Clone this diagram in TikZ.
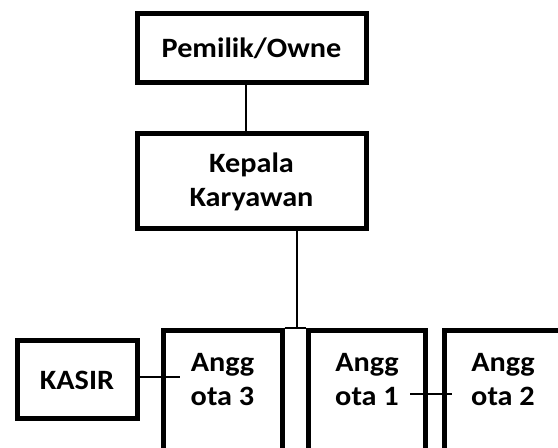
\documentclass[tikz,border=0pt]{standalone}
\usepackage{fontspec}
\setmainfont{Carlito}[FakeStretch=1.08]
\begin{document}
\begin{tikzpicture}[x=1pt,y=1pt,
  box/.style={draw=black, line width=5pt, fill=white, inner sep=0pt, align=center, font=\bfseries\fontsize{28}{34}\selectfont},
  txt/.style={inner sep=0pt, align=center, font=\bfseries\fontsize{28}{34}\selectfont},
  conn/.style={draw=black, line width=2pt}]
\clip (0,0) rectangle (558,448);
\fill[white] (0,0) rectangle (558,448);
% top boxes
\node[box, minimum width=229pt, minimum height=69pt] (p) at (251.5,399.5) {Pemilik/Owne};
\node[box, minimum width=229pt, minimum height=95pt] (k) at (251.5,266.5) {Kepala\\Karyawan};
% bottom boxes
\node[box, minimum width=120pt, minimum height=78pt] (ks) at (77,68) {KASIR};
\node[box, minimum width=119pt, minimum height=200pt, anchor=north] (a3) at (222.5,120) {};
\node[box, minimum width=117pt, minimum height=200pt, anchor=north] (a1) at (366.5,120) {};
\node[box, minimum width=118pt, minimum height=200pt, anchor=north] (a2) at (503,120) {};
\node[txt] (a3t) at (222.5,68) {Angg\\ota 3};
\node[txt] (a1t) at (367,68) {Angg\\ota 1};
\node[txt] (a2t) at (503,68) {Angg\\ota 2};
% connectors
\coordinate (j) at (297,120);
\coordinate (c1) at (180,71);
\coordinate (c2) at (410,54);
\coordinate (c3) at (452,54);
\draw[conn] ([xshift=-5.5pt]p.south) -- ([xshift=-5.5pt]k.north);
\draw[conn] (k.south -| j) -- (j);
\draw[conn] (a3.north east) -- (a1.north west);
\draw[conn] (ks.east |- c1) -- (c1);
\draw[conn] (c2) -- (c3);
\end{tikzpicture}
\end{document}
